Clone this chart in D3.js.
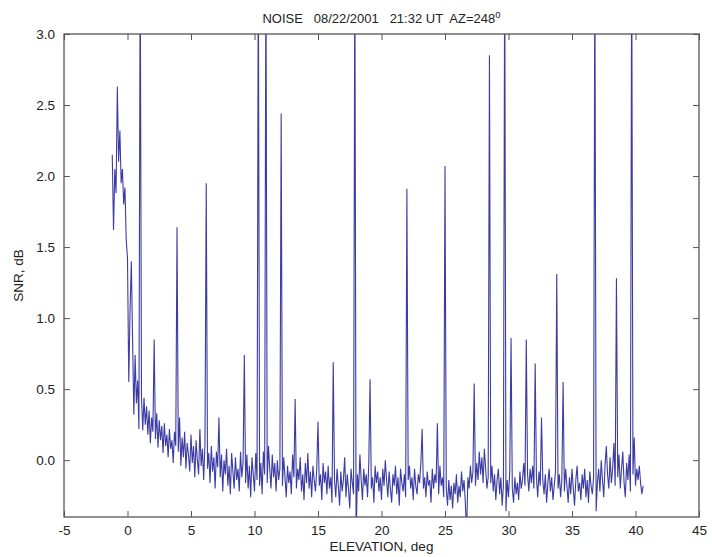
<!DOCTYPE html>
<html>
<head>
<meta charset="utf-8">
<script src="https://cdn.jsdelivr.net/npm/d3@7/dist/d3.min.js"></script>
<style>
body { margin: 0; background: #fff; }
text { font-family: Arial, "Liberation Sans", sans-serif; fill: #222; }
</style>
</head>
<body>
<div id="chart"></div>
<script>
// sampling grid of the noise record (deg)
const elevStart = -1.2, elevStep = 0.1

// SNR, dB - one row per degree of elevation, starting at -1.2
const snr = [
	2.15, 1.62, 2.05, 1.88, 2.63, 2.10, 2.32, 1.95, 2.05, 1.80,   // -1.2
	1.92, 1.55, 1.42, 0.55, 1.05, 1.40, 0.85, 0.32, 0.74, 0.40,   // -0.2
	0.56, 0.22, 3.60, 0.45, 0.21, 0.44, 0.25, 0.38, 0.18, 0.35,   // 0.8
	0.12, 0.30, 0.20, 0.85, 0.15, 0.33, 0.09, 0.28, 0.14, 0.24,   // 1.8
	0.05, 0.26, 0.10, 0.18, 0.02, 0.22, 0.08, 0.14, -0.02, 0.20,  // 2.8
	0.10, 1.64, 0.06, 0.30, -0.04, 0.16, 0.02, 0.20, -0.06, 0.12, // 3.8
	0.04, -0.08, 0.18, -0.02, 0.10, -0.12, 0.14, 0.00, -0.10, 0.22, // 4.8
	-0.04, 0.08, -0.14, 0.12, 1.95, -0.06, 0.05, -0.16, 0.10, -0.08, // 5.8
	0.02, -0.20, 0.06, -0.05, 0.30, -0.12, 0.04, -0.22, 0.00, -0.10, // 6.8
	0.08, -0.18, -0.04, -0.24, 0.05, -0.08, -0.20, 0.02, -0.14, -0.06, // 7.8
	-0.22, 0.06, -0.12, -0.02, 0.74, -0.16, 0.04, -0.20, -0.04, -0.26, // 8.8
	0.02, -0.10, -0.22, 0.05, -0.14, 3.60, -0.18, -0.02, -0.24, 0.06, // 9.8
	-0.10, 3.60, -0.16, 0.10, -0.06, -0.20, 0.04, -0.12, -0.02, -0.22, // 10.8
	0.00, -0.14, -0.06, 2.44, -0.18, 0.02, -0.12, -0.26, -0.04, -0.16, // 11.8
	-0.08, -0.24, 0.04, -0.12, 0.43, -0.20, -0.06, -0.14, 0.02, -0.22, // 12.8
	-0.10, -0.28, -0.02, -0.16, 0.05, -0.20, -0.08, -0.26, -0.04, -0.14, // 13.8
	-0.22, -0.06, 0.27, -0.18, -0.10, -0.28, -0.02, -0.16, -0.08, -0.24, // 14.8
	-0.04, -0.20, -0.12, -0.30, 0.69, -0.14, -0.26, -0.06, -0.18, -0.32, // 15.8
	-0.08, -0.22, -0.14, 0.02, -0.26, -0.10, -0.20, -0.34, -0.06, -0.16, // 16.8
	-0.24, 3.60, -0.60, -0.10, -0.22, 0.04, -0.14, -0.28, -0.06, -0.18, // 17.8
	-0.10, -0.26, -0.02, 0.57, -0.20, -0.12, -0.30, -0.04, -0.16, -0.08, // 18.8
	-0.22, -0.12, -0.28, -0.06, -0.18, 0.00, -0.14, -0.26, -0.08, -0.20, // 19.8
	-0.30, -0.10, -0.18, -0.04, -0.24, -0.12, -0.32, -0.06, -0.16, -0.22, // 20.8
	-0.10, -0.26, 1.91, -0.14, -0.04, -0.20, -0.12, -0.28, -0.06, -0.18, // 21.8
	-0.24, -0.10, -0.16, -0.02, 0.22, -0.20, -0.12, -0.26, -0.08, -0.18, // 22.8
	-0.14, -0.30, -0.06, -0.20, -0.10, -0.16, 0.26, -0.24, -0.04, -0.18, // 23.8
	-0.12, -0.26, 2.07, -0.20, -0.32, -0.14, -0.28, -0.18, -0.34, -0.16, // 24.8
	-0.24, -0.10, -0.30, -0.18, -0.26, -0.08, -0.22, -0.14, -0.30, -0.52, // 25.8
	-0.12, -0.20, -0.04, -0.16, -0.08, 0.54, -0.18, -0.02, -0.14, 0.06, // 26.8
	-0.10, 0.02, -0.16, 0.08, -0.06, -0.20, -0.12, 2.85, -0.16, -0.04, // 27.8
	-0.22, -0.10, -0.28, -0.14, -0.06, -0.24, -0.12, -0.32, -0.18, 3.60, // 28.8
	-0.36, -0.14, -0.26, -0.08, 0.86, -0.20, -0.30, -0.12, -0.24, -0.16, // 29.8
	-0.28, -0.08, -0.20, -0.14, -0.02, -0.18, 0.85, -0.10, -0.22, -0.06, // 30.8
	-0.16, -0.04, -0.20, 0.68, -0.12, -0.26, -0.08, -0.18, 0.30, -0.14, // 31.8
	-0.24, -0.10, -0.30, -0.16, -0.06, -0.22, -0.12, -0.28, -0.18, -0.08, // 32.8
	1.31, -0.20, -0.10, -0.26, -0.14, 0.55, -0.22, -0.06, -0.18, -0.30, // 33.8
	-0.12, -0.24, -0.06, -0.20, -0.32, -0.14, -0.04, -0.22, -0.16, -0.28, // 34.8
	-0.10, -0.20, -0.06, -0.26, -0.14, -0.30, -0.08, -0.18, -0.24, -0.12, // 35.8
	3.60, -0.36, -0.16, -0.06, -0.22, 0.00, -0.14, -0.26, -0.04, 0.10, // 36.8
	-0.10, -0.20, 0.02, -0.16, -0.06, 0.12, -0.18, 1.28, -0.12, 0.04, // 37.8
	-0.20, -0.06, 0.06, -0.16, -0.26, -0.02, -0.14, 0.04, -0.22, 3.60, // 38.8
	-0.10, 0.16, -0.18, -0.06, -0.14, -0.04, -0.16, -0.24, -0.18        // 39.8
]

const xTicks = [-5, 0, 5, 10, 15, 20, 25, 30, 35, 40, 45]
const yTicks = [0.0, 0.5, 1.0, 1.5, 2.0, 2.5, 3.0]
const title = 'NOISE   08/22/2001   21:32 UT  AZ=248'

const W = 712, H = 557
const margin = {left: 64, right: 13, top: 34, bottom: 40}
const w = W - margin.left - margin.right
const h = H - margin.top - margin.bottom

let data = snr.map((v, i) => ({elev: elevStart + i * elevStep, snr: v}))

let x = d3.scaleLinear().domain([-5, 45]).range([0, w])
let y = d3.scaleLinear().domain([-0.4, 3.0]).range([h, 0])

let svg = d3.select('#chart').append('svg')
	.attr('width', W)
	.attr('height', H)

let g = svg.append('g')
	.attr('transform', `translate(${margin.left},${margin.top})`)

svg.append('defs').append('clipPath').attr('id', 'plotclip')
	.append('rect').attr('width', w).attr('height', h)

// data line
g.append('path')
	.datum(data)
	.attr('clip-path', 'url(#plotclip)')
	.attr('fill', 'none')
	.attr('stroke', '#3c3ca4')
	.attr('stroke-width', 1.1)
	.attr('stroke-linejoin', 'miter')
	.attr('d', d3.line().x(d => x(d.elev)).y(d => y(d.snr)))

// axes, MATLAB style ticks pointing inward
let tickLen = 6
let fmt = d3.format('.1f')

let axBottom = g.append('g').attr('transform', `translate(0,${h})`)
	.call(d3.axisBottom(x).tickValues(xTicks).tickFormat(d => String(d)) // plain hyphen, like the original
		.tickSizeInner(-tickLen).tickSizeOuter(0).tickPadding(8))
let axLeft = g.append('g')
	.call(d3.axisLeft(y).tickValues(yTicks).tickFormat(fmt).tickSizeInner(-tickLen).tickSizeOuter(0).tickPadding(9))
let axTop = g.append('g')
	.call(d3.axisTop(x).tickValues(xTicks).tickFormat('').tickSizeInner(-tickLen).tickSizeOuter(0))
let axRight = g.append('g').attr('transform', `translate(${w},0)`)
	.call(d3.axisRight(y).tickValues(yTicks).tickFormat('').tickSizeInner(-tickLen).tickSizeOuter(0))

g.selectAll('.domain').remove()
g.selectAll('.tick line').attr('stroke', '#555')
g.selectAll('.tick text').style('font-size', '13.5px').attr('fill', '#222')

// frame
g.append('rect')
	.attr('width', w)
	.attr('height', h)
	.attr('fill', 'none')
	.attr('stroke', '#555')
	.attr('stroke-width', 1.3)

// title with superscript degree
let t = svg.append('text')
	.attr('x', margin.left + w / 2)
	.attr('y', 23)
	.attr('text-anchor', 'middle')
	.style('font-size', '13px')
	.style('white-space', 'pre')
t.append('tspan').text(title)
t.append('tspan').text('0').attr('dy', -5).style('font-size', '9.5px')

svg.append('text')
	.attr('x', margin.left + w / 2)
	.attr('y', 551)
	.attr('text-anchor', 'middle')
	.style('font-size', '13.5px')
	.text('ELEVATION, deg')

svg.append('text')
	.attr('transform', `translate(23,${margin.top + h / 2}) rotate(-90)`)
	.attr('text-anchor', 'middle')
	.style('font-size', '13.5px')
	.text('SNR, dB')
</script>
</body>
</html>
